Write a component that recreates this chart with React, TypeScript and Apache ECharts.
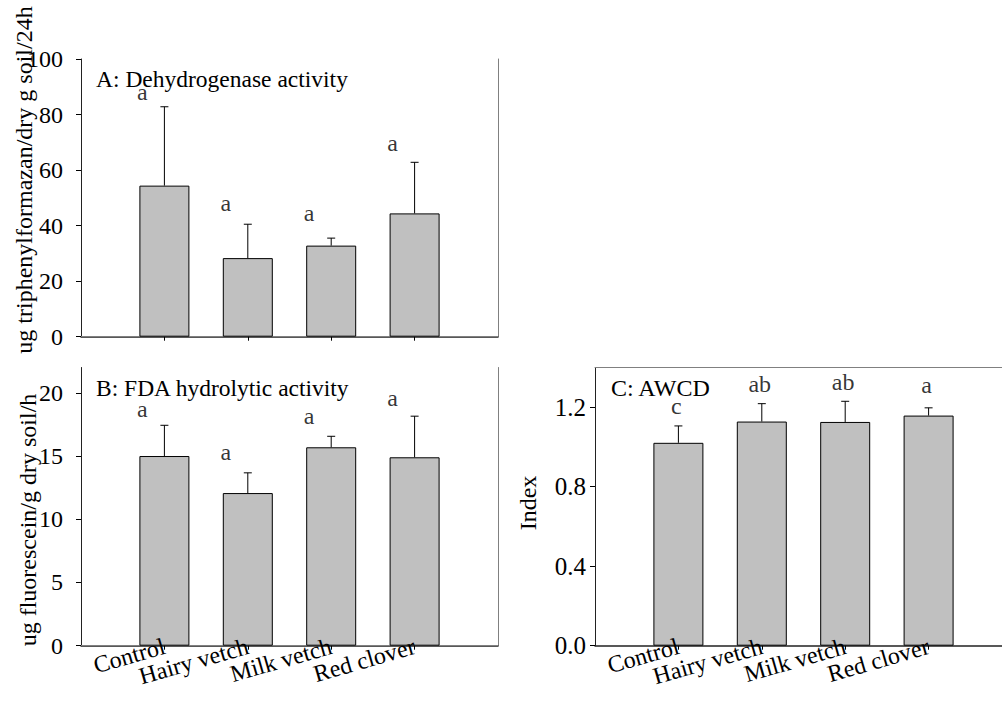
import React, { useEffect, useRef } from "react";
import * as echarts from "echarts";

const categories = ["Control", "Hairy vetch", "Milk vetch", "Red clover"];
// empty slots at both ends of each x axis
const axisCategories = ["", ...categories, " "];

// Panel A: Dehydrogenase activity
const dehydrogenase = [54.4, 28.3, 32.8, 44.4];
const dehydrogenaseErr = [28.4, 12.2, 2.7, 18.4];
const dehydrogenaseLetters = ["a", "a", "a", "a"];
const dehydrogenaseLetterY = [88.0, 48.0, 44.7, 69.9];
const ticksA = [0, 20, 40, 60, 80, 100];

// Panel B: FDA hydrolytic activity
const fda = [15.0, 12.07, 15.69, 14.9];
const fdaErr = [2.43, 1.6, 0.87, 3.25];
const fdaLetters = ["a", "a", "a", "a"];
const fdaLetterY = [18.7, 15.3, 18.2, 19.6];
const ticksB = [0, 5, 10, 15, 20];

// Panel C: AWCD
const awcd = [1.021, 1.128, 1.126, 1.158];
const awcdErr = [0.085, 0.09, 0.104, 0.039];
const awcdLetters = ["c", "ab", "ab", "a"];
const awcdLetterY = [1.205, 1.318, 1.326, 1.314];
const ticksC = [0, 0.4, 0.8, 1.2];

const FONT = "'Liberation Serif', 'Times New Roman', serif";
const FRAME = "#808080";

function errorRender(params: any, api: any) {
  const x = api.value(0);
  const v = api.value(1);
  const e = api.value(2);
  const p0 = api.coord([x, v]);
  const p1 = api.coord([x, v + e]);
  return {
    type: "group",
    children: [
      {
        type: "line",
        shape: { x1: p0[0], y1: p0[1], x2: p1[0], y2: p1[1] },
        style: { stroke: "#000", lineWidth: 1 },
      },
      {
        type: "line",
        shape: { x1: p1[0] - 4, y1: p1[1], x2: p1[0] + 4, y2: p1[1] },
        style: { stroke: "#000", lineWidth: 1 },
      },
    ],
  };
}

function panelSeries(
  idx: number,
  values: number[],
  errs: number[],
  letters: string[],
  letterY: number[],
  letterOffset: number,
  letterSize: number,
  showCategoryLabels: boolean
) {
  const list: any[] = [
    {
      type: "bar",
      xAxisIndex: idx,
      yAxisIndex: idx,
      barWidth: 50,
      data: categories.map((c, i) => [c, values[i]]),
      itemStyle: { color: "#c0c0c0", borderColor: "#000", borderWidth: 1 },
      z: 2,
    },
    {
      type: "custom",
      xAxisIndex: idx,
      yAxisIndex: idx,
      renderItem: errorRender,
      data: categories.map((c, i) => [i + 1, values[i], errs[i]]),
      z: 3,
    },
    {
      type: "scatter",
      xAxisIndex: idx,
      yAxisIndex: idx,
      symbolSize: 1,
      itemStyle: { color: "rgba(0,0,0,0)" },
      data: categories.map((c, i) => [c, letterY[i]]),
      label: {
        show: true,
        position: "inside",
        offset: [letterOffset, 0],
        formatter: (p: any) => letters[p.dataIndex],
        color: "#000",
        textBorderWidth: 0,
        fontSize: letterSize,
        lineHeight: 14,
        fontFamily: FONT,
      },
      z: 4,
    },
  ];
  if (showCategoryLabels) {
    // rotated category names under the x axis, anchored at each tick
    list.push({
      type: "scatter",
      xAxisIndex: idx,
      yAxisIndex: idx,
      symbolSize: 1,
      clip: false,
      itemStyle: { color: "rgba(0,0,0,0)" },
      data: categories.map((c) => [c, 0]),
      label: {
        show: true,
        position: "inside",
        offset: [2, 31],
        rotate: 16,
        align: "right",
        verticalAlign: "middle",
        formatter: (p: any) => categories[p.dataIndex],
        color: "#000",
        opacity: 1,
        textBorderWidth: 0,
        fontSize: 24,
        fontFamily: FONT,
      },
      labelLayout: { hideOverlap: false },
      z: 6,
    });
  }
  return list;
}

const inner = (i: number) => i >= 1 && i <= 4;

function xAxisBottom(idx: number) {
  return {
    type: "category",
    gridIndex: idx,
    data: axisCategories,
    boundaryGap: false,
    position: "bottom",
    splitLine: { show: false },
    axisLine: { show: true, lineStyle: { color: "#222", width: 1.5 } },
    axisTick: {
      show: true,
      interval: (i: number) => inner(i),
      length: 4,
      lineStyle: { color: "#000", width: 1 },
    },
    axisLabel: { show: false },
  };
}

function xAxisTop(idx: number) {
  return {
    type: "category",
    gridIndex: idx,
    data: axisCategories,
    boundaryGap: false,
    position: "top",
    axisLine: { show: true, lineStyle: { color: FRAME, width: 1 } },
    axisTick: { show: false },
    axisLabel: { show: false },
    splitLine: { show: false },
  };
}

function yAxisLeft(
  idx: number,
  max: number,
  ticks: number[],
  fmt: (v: number) => string,
  fontSize: number,
  margin: number
) {
  return {
    type: "value",
    gridIndex: idx,
    position: "left",
    min: 0,
    max,
    splitLine: { show: false },
    axisLine: { show: true, lineStyle: { color: "#222", width: 1 } },
    axisTick: {
      show: true,
      customValues: ticks,
      length: 5,
      lineStyle: { color: "#000", width: 1 },
    },
    axisLabel: {
      customValues: ticks,
      formatter: fmt,
      hideOverlap: false,
      fontSize,
      fontFamily: FONT,
      color: "#000",
      margin,
    },
  };
}

function yAxisRight(idx: number, max: number) {
  return {
    type: "value",
    gridIndex: idx,
    position: "right",
    min: 0,
    max,
    splitLine: { show: false },
    axisLine: { show: true, lineStyle: { color: FRAME, width: 1 } },
    axisTick: { show: false },
    axisLabel: { show: false },
  };
}

export default function App() {
  const ref = useRef<HTMLDivElement>(null);
  useEffect(() => {
    if (!ref.current) return;
    const chart = echarts.init(ref.current, null, { renderer: "svg" });
    const gridBase = {
      show: false,
      containLabel: false,
      outerBoundsMode: "none",
    };
    const titleStyle = { fontSize: 23.5, lineHeight: 18, fontFamily: FONT, fill: "#000", align: "left", verticalAlign: "middle" };
    const yTitleStyle = { fontSize: 24, fontFamily: FONT, fill: "#000", align: "center", verticalAlign: "middle" };
    chart.setOption({
      animation: false,
      backgroundColor: "#fff",
      textStyle: { fontFamily: FONT },
      grid: [
        { ...gridBase, left: 81, top: 59, width: 417, height: 277.7 },
        { ...gridBase, left: 81, top: 367.5, width: 417, height: 278.2 },
        { ...gridBase, left: 595, top: 367.5, width: 417, height: 278.2 },
      ],
      xAxis: [xAxisBottom(0), xAxisBottom(1), xAxisBottom(2), xAxisTop(0), xAxisTop(1), xAxisTop(2)],
      yAxis: [
        yAxisLeft(0, 100, ticksA, (v) => String(v), 24, 18),
        yAxisLeft(1, 22, ticksB, (v) => String(v), 24, 18),
        yAxisLeft(2, 1.4, ticksC, (v) => v.toFixed(1), 25, 9),
        yAxisRight(0, 100),
        yAxisRight(1, 22),
      ],
      series: [
        ...panelSeries(0, dehydrogenase, dehydrogenaseErr, dehydrogenaseLetters, dehydrogenaseLetterY, -22, 24, false),
        ...panelSeries(1, fda, fdaErr, fdaLetters, fdaLetterY, -22, 24, true),
        ...panelSeries(2, awcd, awcdErr, awcdLetters, awcdLetterY, -2, 24, true),
      ],
      graphic: [
        { type: "text", x: 96, y: 78.5, style: { ...titleStyle, text: "A: Dehydrogenase activity" } },
        { type: "text", x: 96, y: 387.5, style: { ...titleStyle, text: "B: FDA hydrolytic activity" } },
        { type: "text", x: 611, y: 387.5, style: { ...titleStyle, fontSize: 24, text: "C: AWCD" } },
        {
          type: "text",
          x: 24,
          y: 180,
          rotation: Math.PI / 2,
          style: { ...yTitleStyle, text: "ug triphenylformazan/dry g soil/24h" },
        },
        {
          type: "text",
          x: 28,
          y: 520,
          rotation: Math.PI / 2,
          style: { ...yTitleStyle, text: "ug fluorescein/g dry soil/h" },
        },
        {
          type: "text",
          x: 528,
          y: 503,
          rotation: Math.PI / 2,
          style: { ...yTitleStyle, text: "Index" },
        },
      ],
    });
    return () => chart.dispose();
  }, []);
  return (
    <div
      ref={ref}
      style={{ position: "fixed", left: 0, top: 0, width: 1030, height: 702, background: "#fff" }}
    />
  );
}
